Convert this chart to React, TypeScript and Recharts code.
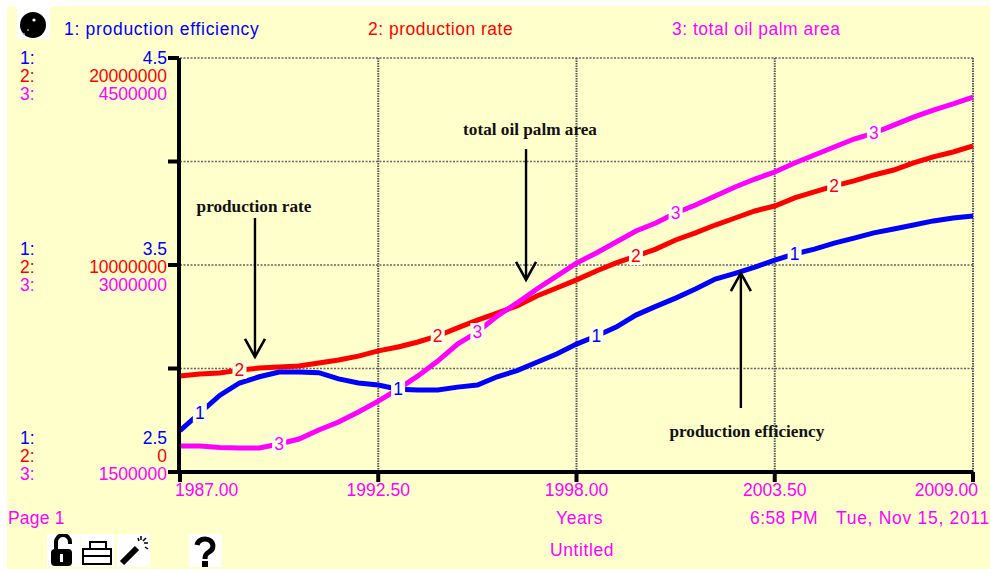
import { CartesianGrid, Line, LineChart, ReferenceLine, XAxis, YAxis } from 'recharts';

const years = [
  1987, 1987.55, 1988.1, 1988.65, 1989.2, 1989.75, 1990.3, 1990.85, 1991.4, 1991.95, 1992.5,
  1993.05, 1993.6, 1994.15, 1994.7, 1995.25, 1995.8, 1996.35, 1996.9, 1997.45, 1998,
  1998.55, 1999.1, 1999.65, 2000.2, 2000.75, 2001.3, 2001.85, 2002.4, 2002.95, 2003.5,
  2004.05, 2004.6, 2005.15, 2005.7, 2006.25, 2006.8, 2007.35, 2007.9, 2008.45, 2009,
];

const efficiency = [
  2.70, 2.785, 2.87, 2.93, 2.96, 2.983, 2.983, 2.98, 2.95, 2.93, 2.92,
  2.90, 2.896, 2.896, 2.91, 2.92, 2.96, 2.99, 3.03, 3.07, 3.118,
  3.157, 3.20, 3.258, 3.30, 3.34, 3.384, 3.432, 3.46, 3.49, 3.524,
  3.553, 3.577, 3.606, 3.63, 3.655, 3.674, 3.693, 3.713, 3.727, 3.737,
];

const productionRate = [
  4640000, 4730000, 4780000, 4930000, 5020000, 5070000, 5120000, 5270000, 5410000, 5600000, 5850000,
  6040000, 6280000, 6570000, 6960000, 7340000, 7680000, 8020000, 8500000, 8890000, 9280000,
  9710000, 10100000, 10430000, 10770000, 11210000, 11550000, 11930000, 12270000, 12610000, 12850000,
  13240000, 13530000, 13820000, 14060000, 14350000, 14590000, 14930000, 15220000, 15460000, 15750000,
];

const oilPalmArea = [
  1688000, 1688000, 1678000, 1674000, 1674000, 1703000, 1739000, 1804000, 1862000, 1935000, 2014000,
  2101000, 2196000, 2304000, 2427000, 2514000, 2630000, 2725000, 2826000, 2920000, 3014000,
  3087000, 3167000, 3246000, 3304000, 3377000, 3435000, 3500000, 3565000, 3623000, 3674000,
  3739000, 3797000, 3855000, 3913000, 3956000, 4014000, 4072000, 4123000, 4167000, 4217000,
];

const yearTicks = [1987, 1992.5, 1998, 2003.5, 2009];
const efficiencyTicks = [2.5, 3, 3.5, 4, 4.5];
const rateTicks = [0, 10000000, 20000000];
const areaTicks = [1500000, 3000000, 4500000];

// where the "1", "2", "3" tags sit on each curve (indexes into years)
const efficiencyTags = [1, 11, 21, 31];
const rateTags = [3, 13, 23, 33];
const areaTags = [5, 15, 25, 35];

const chartData = years.map((year, i) => ({
  year,
  efficiency: efficiency[i],
  productionRate: productionRate[i],
  oilPalmArea: oilPalmArea[i],
}));

const BLUE = '#0000ff';
const RED = '#ff0000';
const PINK = '#ff00ff';
const PAPER = '#ffffcc';
const SANS = '"Liberation Sans", Arial, sans-serif';
const FONT_SIZE = 17.5;

const seriesTag = (digit: string, color: string, indexes: number[]) => (props: any) => {
  if (!indexes.includes(props.index)) return <g key={props.index} />;
  return (
    <g key={props.index}>
      <rect x={props.x - 7} y={props.y - 9} width={14} height={18} fill="#ffffe8" />
      <text x={props.x} y={props.y + 6} textAnchor="middle" fontFamily={SANS} fontSize={FONT_SIZE} fill={color}>
        {digit}
      </text>
    </g>
  );
};

const scaleTick = (row: number, color: string, lo: number, hi: number) => (props: any) => {
  const value = props.payload.value;
  const pos = (value - lo) / (hi - lo);
  if (pos !== 0 && pos !== 0.5 && pos !== 1) return <g />;
  const shift = pos === 1 ? 0 : pos === 0.5 ? -16 : -34;
  const y = props.y + shift + row * 18 + 6;
  return (
    <g fontFamily={SANS} fontSize={FONT_SIZE} fill={color}>
      <text x={20} y={y}>{row + 1}:</text>
      <text x={167} y={y} textAnchor="end">{value}</text>
    </g>
  );
};

const yearTick = (props: any) => {
  const value = props.payload.value;
  const anchor = value === 1987 ? 'start' : value === 2009 ? 'end' : 'middle';
  const x = value === 1987 ? 175 : value === 2009 ? props.x + 5 : props.x;
  return (
    <text x={x} y={props.y + 12} textAnchor={anchor} fontFamily={SANS} fontSize={FONT_SIZE} fill={PINK}>
      {value.toFixed(2)}
    </text>
  );
};

const arrowShape = (text: string, dx: number, dy: number) => (props: any) => {
  const { x1, y1, x2, y2 } = props;
  const dir = y2 > y1 ? -1 : 1;
  return (
    <g>
      <line x1={x1} y1={y1} x2={x2} y2={y2} stroke="#000" strokeWidth={2.4} />
      <polyline
        points={`${x2 - 10},${y2 + dir * 18} ${x2},${y2} ${x2 + 10},${y2 + dir * 18}`}
        fill="none"
        stroke="#000"
        strokeWidth={2.6}
      />
      <text
        x={x1 + dx}
        y={y1 + dy}
        textAnchor="middle"
        fontFamily='"Liberation Serif", serif'
        fontWeight="bold"
        fontSize={17.2}
        fill="#111"
      >
        {text}
      </text>
    </g>
  );
};

function Icon({ left, top, children }: { left: number; top: number; children: any }) {
  return (
    <svg width={33} height={33} viewBox="0 0 33 33" style={{ position: 'absolute', left, top, background: '#fff' }}>
      {children}
    </svg>
  );
}

function Caption({ left, top, color = PINK, spacing = 0, children }: any) {
  return (
    <div
      style={{
        position: 'absolute',
        left,
        top,
        color,
        fontFamily: SANS,
        fontSize: FONT_SIZE,
        lineHeight: '20px',
        letterSpacing: spacing,
        whiteSpace: 'nowrap',
      }}
    >
      {children}
    </div>
  );
}

export default function App() {
  return (
    <div style={{ position: 'absolute', left: 0, top: 0, width: 990, height: 569, background: '#fff', overflow: 'hidden' }}>
      <div style={{ position: 'absolute', left: 7, top: 6, width: 983, height: 563, background: PAPER }} />

      <Icon left={17} top={6}>
        <circle cx={16} cy={19} r={13} fill="#000" />
        <circle cx={17} cy={14} r={1.6} fill="#fff" />
        <circle cx={7} cy={28} r={1} fill="#999" />
        <circle cx={11} cy={24} r={1} fill="#999" />
      </Icon>

      <Caption left={64} top={19} color={BLUE} spacing={0.7}>1: production efficiency</Caption>
      <Caption left={368} top={19} color={RED} spacing={0.5}>2: production rate</Caption>
      <Caption left={672} top={19} color={PINK} spacing={0.5}>3: total oil palm area</Caption>

      <LineChart
        width={990}
        height={569}
        data={chartData}
        margin={{ top: 58, right: 17, bottom: 0, left: 177 }}
        style={{ position: 'absolute', left: 0, top: 0 }}
      >
        <CartesianGrid yAxisId="efficiency" vertical={false} stroke="#666" strokeWidth={1.6} strokeDasharray="2 1.5" />
        <CartesianGrid yAxisId="efficiency" horizontal={false} stroke="#555" strokeWidth={2} strokeDasharray="1.5 1" />

        <XAxis
          dataKey="year"
          type="number"
          domain={[1987, 2009]}
          ticks={yearTicks}
          interval={0}
          height={97}
          tickSize={10}
          tick={yearTick}
          axisLine={{ stroke: '#000', strokeWidth: 4 }}
          tickLine={{ stroke: '#000', strokeWidth: 4 }}
        />
        <YAxis
          yAxisId="efficiency"
          domain={[2.5, 4.5]}
          ticks={efficiencyTicks}
          interval={0}
          width={1}
          tickSize={11}
          tick={scaleTick(0, BLUE, 2.5, 4.5)}
          axisLine={{ stroke: '#000', strokeWidth: 4 }}
          tickLine={{ stroke: '#000', strokeWidth: 4 }}
        />
        <YAxis
          yAxisId="rate"
          domain={[0, 20000000]}
          ticks={rateTicks}
          interval={0}
          width={1}
          tick={scaleTick(1, RED, 0, 20000000)}
          axisLine={false}
          tickLine={false}
        />
        <YAxis
          yAxisId="area"
          domain={[1500000, 4500000]}
          ticks={areaTicks}
          interval={0}
          width={1}
          tick={scaleTick(2, PINK, 1500000, 4500000)}
          axisLine={false}
          tickLine={false}
        />

        <Line
          yAxisId="rate"
          dataKey="productionRate"
          stroke={RED}
          strokeWidth={5}
          dot={false}
          label={seriesTag('2', RED, rateTags)}
          isAnimationActive={false}
        />
        <Line
          yAxisId="area"
          dataKey="oilPalmArea"
          stroke={PINK}
          strokeWidth={5}
          dot={false}
          label={seriesTag('3', PINK, areaTags)}
          isAnimationActive={false}
        />
        <Line
          yAxisId="efficiency"
          dataKey="efficiency"
          stroke={BLUE}
          strokeWidth={5}
          dot={false}
          label={seriesTag('1', BLUE, efficiencyTags)}
          isAnimationActive={false}
        />

        <ReferenceLine
          yAxisId="efficiency"
          segment={[{ x: 1989.08, y: 3.727 }, { x: 1989.08, y: 3.056 }]}
          shape={arrowShape('production rate', -1, -6)}
        />
        <ReferenceLine
          yAxisId="efficiency"
          segment={[{ x: 1996.6, y: 4.06 }, { x: 1996.6, y: 3.428 }]}
          shape={arrowShape('total oil palm area', 4, -14)}
        />
        <ReferenceLine
          yAxisId="efficiency"
          segment={[{ x: 2002.56, y: 2.809 }, { x: 2002.56, y: 3.461 }]}
          shape={arrowShape('production efficiency', 6, 29)}
        />
      </LineChart>

      <Caption left={8} top={508} spacing={0.2}>Page 1</Caption>
      <Caption left={556} top={508} spacing={0.6}>Years</Caption>
      <Caption left={750} top={508} spacing={0.4}>6:58 PM</Caption>
      <Caption left={836} top={508} spacing={0.7}>Tue, Nov 15, 2011</Caption>
      <Caption left={550} top={540} spacing={0.6}>Untitled</Caption>

      <Icon left={47} top={534}>
        <path d="M9 15V8a7 7 0 0 1 14 0v2" fill="none" stroke="#000" strokeWidth={4} />
        <rect x={4} y={15} width={21} height={17} rx={4} fill="#000" />
        <rect x={13} y={20} width={3} height={8} fill="#fff" />
      </Icon>
      <Icon left={81} top={534}>
        <rect x={9} y={8} width={16} height={8} fill="#fff" stroke="#000" strokeWidth={2} />
        <rect x={2} y={15} width={28} height={15} fill="#fff" stroke="#000" strokeWidth={2} />
        <line x1={2} y1={22} x2={30} y2={22} stroke="#000" strokeWidth={2} />
      </Icon>
      <Icon left={117} top={534}>
        <line x1={5} y1={29} x2={20} y2={14} stroke="#000" strokeWidth={6} />
        <path d="M24 2v4M31 9h-4M29 4l-3 3M21 4l1 3M31 15l-3-2" stroke="#000" strokeWidth={1.5} />
      </Icon>
      <Icon left={189} top={534}>
        <path d="M8 11a8 7 0 1 1 12 7c-3 2-4 3-4 7" fill="none" stroke="#000" strokeWidth={5} />
        <rect x={13} y={27} width={6} height={6} fill="#000" />
      </Icon>
    </div>
  );
}
